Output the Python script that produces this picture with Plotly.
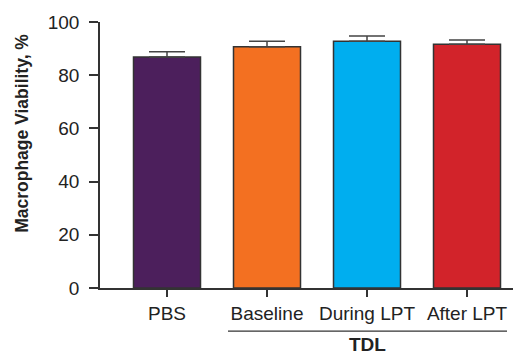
import plotly.graph_objects as go

categories = ["PBS", "Baseline", "During LPT", "After LPT"]
viability = [86.8, 90.7, 92.8, 91.6]
sem = [2.0, 2.1, 1.9, 1.6]
colors = ["#4C1F5C", "#F37021", "#00AEEF", "#D2232A"]
y_ticks = [0, 20, 40, 60, 80, 100]
y_title = "Macrophage Viability, %"
group_label = "TDL"
group_members = [1, 3]  # index range of categories under the TDL bracket

x_idx = list(range(len(categories)))
FONT = "Liberation Sans, Arial, Helvetica, sans-serif"

fig = go.Figure()
fig.add_trace(go.Bar(
    x=x_idx, y=viability, width=0.67,
    marker=dict(color=colors, line=dict(color="#333333", width=1.5)),
    error_y=dict(type="data", array=sem, arrayminus=[0]*len(sem), symmetric=False,
                 color="#444444", thickness=1.5, width=18),
    showlegend=False,
))

fig.add_shape(type="line", xref="x", yref="paper",
              x0=group_members[0] - 0.39, x1=group_members[1] + 0.40,
              y0=-0.162, y1=-0.162, line=dict(color="#333333", width=1.2))
fig.add_annotation(xref="x", yref="paper",
                   x=(group_members[0] + group_members[1]) / 2, y=-0.214,
                   text="<b>" + group_label + "</b>", showarrow=False,
                   font=dict(size=19, color="#222222", family=FONT),
                   yanchor="middle")
fig.add_annotation(xref="paper", yref="paper", x=-0.186, y=0.583,
                   text="<b>" + y_title + "</b>", showarrow=False, textangle=-90,
                   font=dict(size=17.5, color="#222222", family=FONT),
                   xanchor="center", yanchor="middle")

axis_font = dict(size=19, color="#222222", family=FONT)
fig.update_layout(
    width=513, height=346,
    margin=dict(l=92, r=1, t=14, b=66),
    paper_bgcolor="white", plot_bgcolor="white",
    font=axis_font,
    xaxis=dict(range=[-0.67, 3.53], tickmode="array", tickvals=x_idx, ticktext=categories,
               showline=True, linecolor="#333333", linewidth=1.5,
               ticks="outside", ticklen=7, tickwidth=1.5, tickcolor="#333333",
               showgrid=False, zeroline=False, tickfont=axis_font),
    yaxis=dict(range=[0, 100], tickvals=y_ticks,
               showline=True, linecolor="#333333", linewidth=1.5,
               ticks="outside", ticklen=9, tickwidth=1.5, tickcolor="#333333",
               ticklabelstandoff=6,
               showgrid=False, zeroline=False, tickfont=axis_font),
)

fig.write_html("out.html")
